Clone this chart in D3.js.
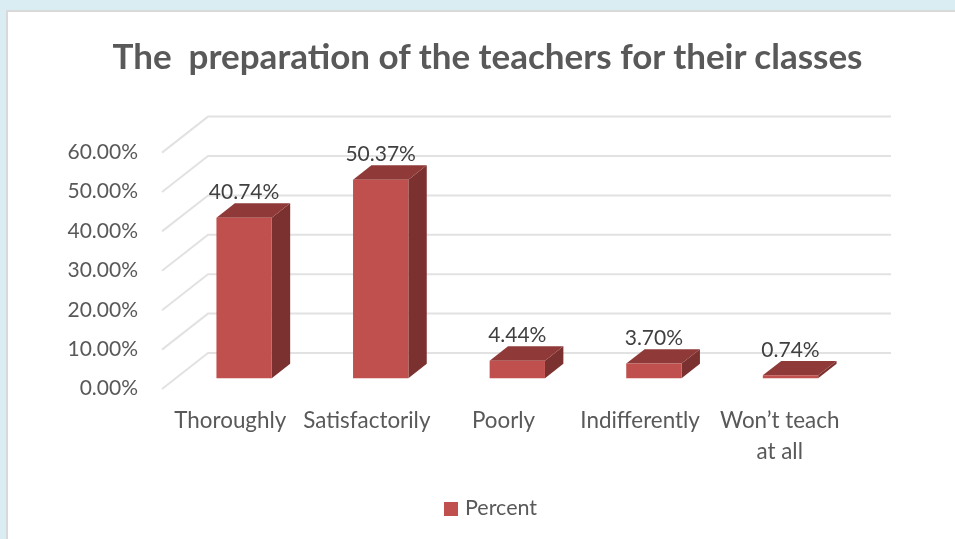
<!DOCTYPE html>
<html>
<head>
<meta charset="utf-8">
<script src="https://cdn.jsdelivr.net/npm/d3@7"></script>
<style>
  html, body { margin: 0; padding: 0; background: #daedf3; }
  svg { display: block; filter: blur(0.4px); }
  text { font-family: Lato, "Open Sans", sans-serif; }
</style>
</head>
<body>
<div id="chart"></div>
<script>
const title = "The  preparation of the teachers for their classes";
const seriesName = "Percent";
const categories = ["Thoroughly", "Satisfactorily", "Poorly", "Indifferently", "Won\u2019t teach at all"];
const percents = [40.74, 50.37, 4.44, 3.70, 0.74];
const yTicks = [0, 10, 20, 30, 40, 50, 60];

const width = 955, height = 539;

// front plane of the 3D box, the wall sits depth.x / depth.y behind it
const x = d3.scaleBand()
    .domain(categories)
    .range([162, 845])
    .paddingInner(0.595)
    .paddingOuter(0.2975);
const y = d3.scaleLinear().domain([0, 60]).range([389, 152.6]);
const depth = { x: 46, y: -36 };
const barFront = 0.3, barBack = 0.7;

const fmt = d => d.toFixed(2) + "%";

const svg = d3.select("#chart").append("svg")
    .attr("width", width)
    .attr("height", height);

// card
svg.append("rect")
    .attr("x", 7).attr("y", 11)
    .attr("width", width).attr("height", height)
    .attr("fill", "#fff")
    .attr("stroke", "#d9d9d9")
    .attr("stroke-width", 2);

svg.append("text")
    .attr("x", 487.5)
    .attr("y", 69)
    .attr("text-anchor", "middle")
    .attr("fill", "#595959")
    .style("font-size", "35px")
    .style("font-weight", "bold")
    .style("white-space", "pre")
    .text(title);

// grid: slanted floor/side part and the back wall part
const grid = svg.append("g")
    .attr("fill", "none")
    .attr("stroke", "#e2e2e2")
    .attr("stroke-width", 2);
grid.selectAll("path")
    .data(yTicks)
    .join("path")
    .attr("d", d => {
        const p = d3.path();
        p.moveTo(x.range()[0], y(d));
        p.lineTo(x.range()[0] + depth.x, y(d) + depth.y);
        p.lineTo(x.range()[1] + depth.x, y(d) + depth.y);
        return p.toString();
    });

// y axis
const yAxis = svg.append("g")
    .attr("transform", "translate(138,0)")
    .call(d3.axisLeft(y).tickValues(yTicks).tickSize(0).tickPadding(0).tickFormat(fmt));
yAxis.select(".domain").remove();
yAxis.selectAll("text")
    .attr("dy", "0.28em")
    .attr("fill", "#595959")
    .style("font-size", "21px");

// x axis, labels wrapped by hand like the original
const xAxis = svg.append("g")
    .attr("transform", `translate(0,${y(0)})`)
    .call(d3.axisBottom(x).tickSize(0).tickPadding(0));
xAxis.select(".domain").remove();
xAxis.selectAll("text")
    .attr("fill", "#595959")
    .style("font-size", "22.4px")
    .text(null)
    .each(function(d) {
        const t = d3.select(this).attr("y", 39).attr("dy", null);
        const wrapped = d === categories[4];
        const lines = wrapped ? ["Won\u2019t teach", "at all"] : [d];
        lines.forEach((line, i) => {
            t.append("tspan")
                .attr("x", wrapped ? 3 : 0)
                .attr("dy", i ? 31 : 0)
                .text(line);
        });
    });

// bars
const shift = (px, py, t) => [px + depth.x * t, py + depth.y * t];
const pts = arr => arr.map(p => p.join(",")).join(" ");
const bars = svg.append("g").selectAll("g")
    .data(categories.map((c, i) => ({ c, v: percents[i] })))
    .join("g");

bars.append("polygon") // side
    .attr("fill", "#7b312f")
    .attr("points", d => {
        const r = x(d.c) + x.bandwidth();
        return pts([shift(r, y(0), barFront), shift(r, y(0), barBack),
                    shift(r, y(d.v), barBack), shift(r, y(d.v), barFront)]);
    });
bars.append("polygon") // top
    .attr("fill", "#8f3a38")
    .attr("points", d => {
        const l = x(d.c), r = l + x.bandwidth();
        return pts([shift(l, y(d.v), barFront), shift(r, y(d.v), barFront),
                    shift(r, y(d.v), barBack), shift(l, y(d.v), barBack)]);
    });
bars.append("polygon") // front
    .attr("fill", "#c0504d")
    .attr("points", d => {
        const l = x(d.c), r = l + x.bandwidth();
        return pts([shift(l, y(0), barFront), shift(r, y(0), barFront),
                    shift(r, y(d.v), barFront), shift(l, y(d.v), barFront)]);
    });

bars.append("text")
    .attr("x", d => x(d.c) + x.bandwidth() / 2 + depth.x * barFront)
    .attr("y", d => y(d.v) + depth.y * barBack - 4)
    .attr("text-anchor", "middle")
    .attr("fill", "#404040")
    .style("font-size", "21px")
    .text(d => fmt(d.v));

// legend
svg.append("rect")
    .attr("x", 444).attr("y", 502)
    .attr("width", 14).attr("height", 14)
    .attr("fill", "#c0504d");
svg.append("text")
    .attr("x", 465)
    .attr("y", 515)
    .attr("fill", "#595959")
    .style("font-size", "21.5px")
    .text(seriesName);
</script>
</body>
</html>
